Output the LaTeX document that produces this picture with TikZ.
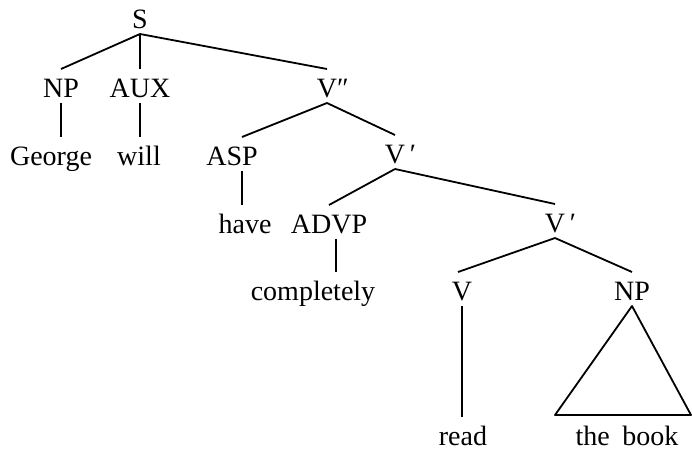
\documentclass[tikz,border=0pt]{standalone}
\usepackage{fontspec}
\setmainfont{Liberation Serif}
\begin{document}
\begin{tikzpicture}[x=1pt,y=-1pt,
  lbl/.style={anchor=base, inner sep=0pt, outer sep=0pt, text height=28pt, text depth=6pt, font=\fontsize{28}{30}\selectfont},
  edge/.style={line width=1.8pt, line join=round}]
\useasboundingbox (0,0) rectangle (692,451);
\node[lbl] (S) at (140,28) {S};
\node[lbl] (NPa) at (61,97) {NP};
\node[lbl] (AUX) at (140,97) {AUX};
\node[lbl] (Vbb) at (327,97) {V\rlap{″}};
\node[lbl] (George) at (51,165) {George};
\node[lbl] (will) at (139,165) {will};
\node[lbl] (ASP) at (232,165) {ASP};
\node[lbl] (Vba) at (395,163) {V\rlap{\,′}};
\node[lbl] (have) at (245,233) {have};
\node[lbl] (ADVP) at (329,233) {ADVP};
\node[lbl] (Vbc) at (555,232) {V\rlap{\,′}};
\node[lbl] (compl) at (313,300) {completely};
\node[lbl] (V) at (462,300) {V};
\node[lbl] (NPb) at (632,300) {NP};
\node[lbl] (read) at (463,445) {read};
\node[lbl] (book) at (627,445) {the\hspace{0.45em}book};
\coordinate (TL) at (555,415);
\coordinate (TR) at (691,415);
\draw[edge] (S.south) -- (NPa.north);
\draw[edge] (S.south) -- (AUX.north);
\draw[edge] (S.south) -- (Vbb.north);
\draw[edge] (NPa.south) -- (NPa.south |- George.north);
\draw[edge] (AUX.south) -- (AUX.south |- will.north);
\draw[edge] (Vbb.south) -- ([xshift=10pt]ASP.north);
\draw[edge] (Vbb.south) -- (Vba.north);
\draw[edge] ([xshift=10pt]ASP.south) -- ([xshift=10pt]ASP.south |- have.north);
\draw[edge] (Vba.south) -- (ADVP.north);
\draw[edge] (Vba.south) -- (Vbc.north);
\draw[edge] ([xshift=7pt]ADVP.south) -- ([xshift=7pt]ADVP.south |- compl.north);
\draw[edge] (Vbc.south) -- ([xshift=-4pt]V.north);
\draw[edge] (Vbc.south) -- (NPb.north);
\draw[edge] (V.south) -- (V.south |- read.north);
\draw[edge] (NPb.south) -- (TL) -- (TR) -- cycle;
\end{tikzpicture}
\end{document}
